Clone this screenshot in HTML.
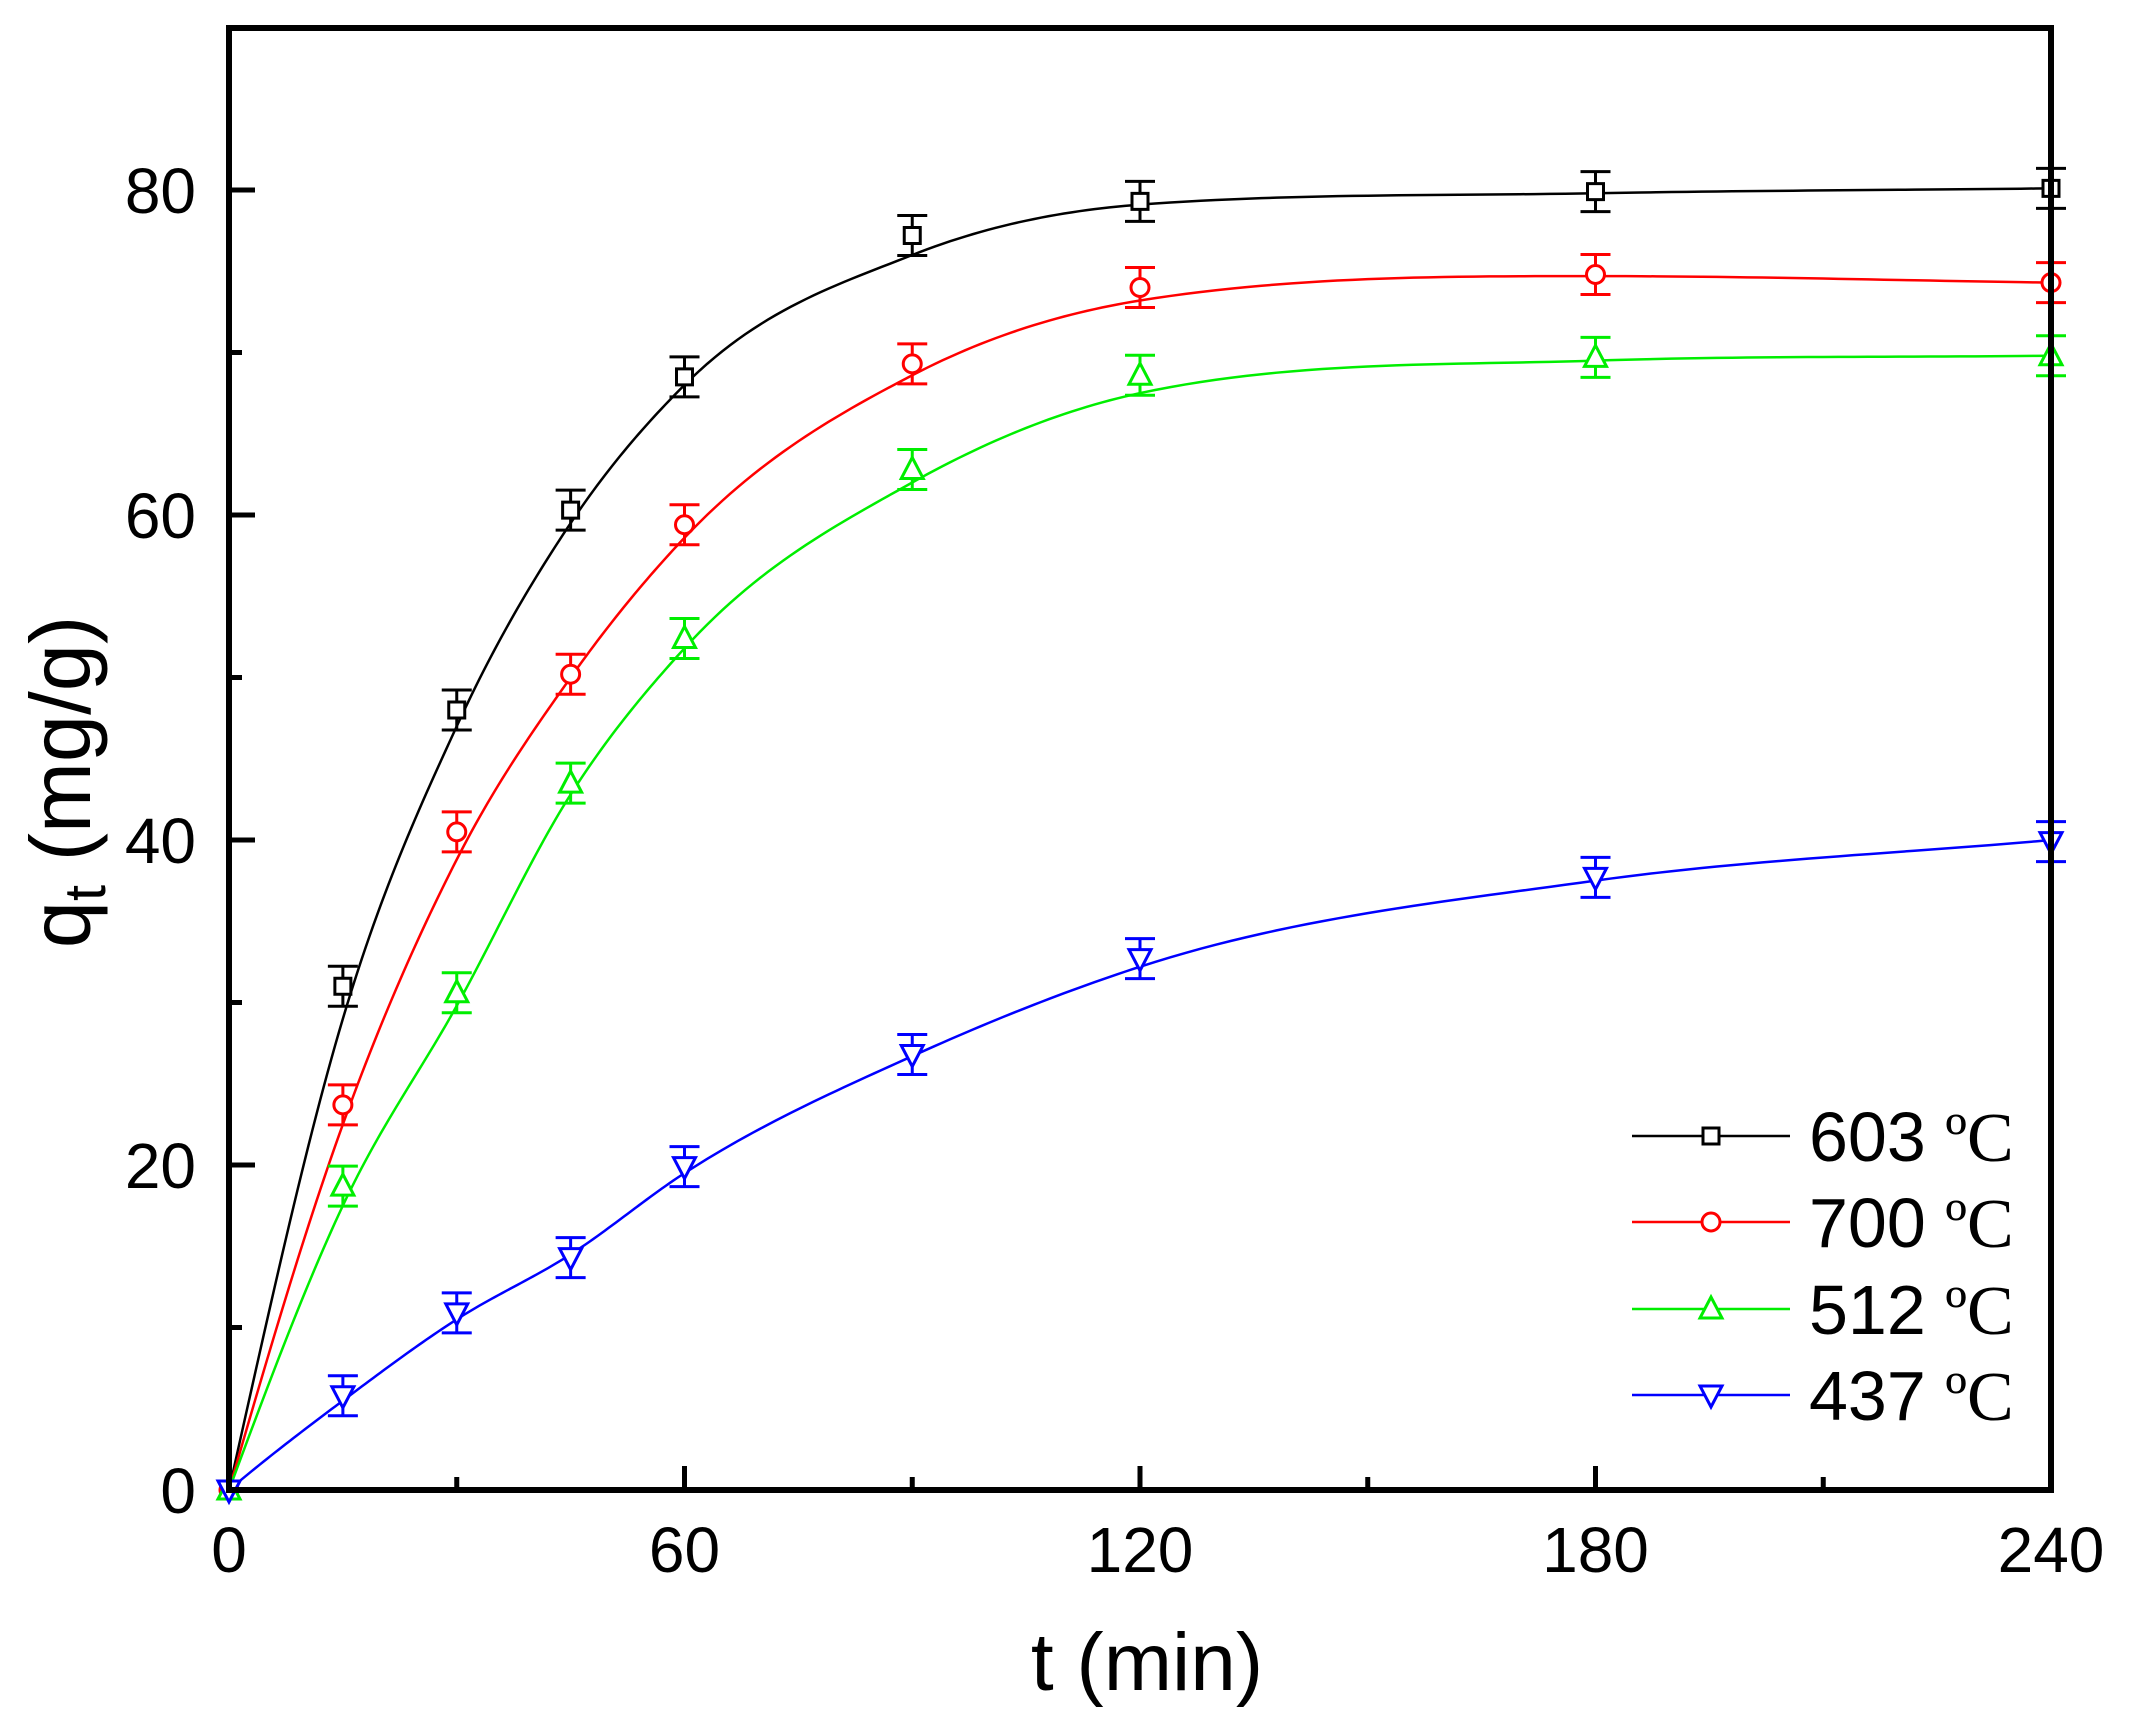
<!DOCTYPE html>
<html><head><meta charset="utf-8"><style>
html,body{margin:0;padding:0;background:#fff;}
svg{display:block;}
</style></head><body>
<svg id="s" width="2129" height="1726" viewBox="0 0 2129 1726" xmlns="http://www.w3.org/2000/svg" font-family="Liberation Sans, Arial, sans-serif">
<rect width="2129" height="1726" fill="#fff"/>
<g id="plot"></g>
<rect x="229" y="28" width="1822" height="1462" fill="none" stroke="#000" stroke-width="6"/>
<g id="ticks" stroke="#000" stroke-width="5"></g>
<g font-size="64" text-anchor="middle" fill="#000">
<text x="229" y="1572">0</text><text x="684.5" y="1572">60</text><text x="1140" y="1572">120</text><text x="1595.5" y="1572">180</text><text x="2051" y="1572">240</text>
</g>
<g font-size="64" text-anchor="end" fill="#000">
<text x="196" y="1513">0</text><text x="196" y="1188">20</text><text x="196" y="863">40</text><text x="196" y="538">60</text><text x="196" y="213">80</text>
</g>
<text x="1147" y="1690" font-size="82" text-anchor="middle">t (min)</text>
<text transform="translate(90,782) rotate(-90)" font-size="85" text-anchor="middle">q<tspan font-size="58" dy="15">t</tspan><tspan dy="-15"> (mg/g)</tspan></text>
<g id="legend"></g>
</svg>
<script>
var X=function(t){return 229+t*1822/240;},Y=function(q){return 1490-q*16.25;};
var T=[0,15,30,45,60,90,120,180,240];
var S=[
{c:"#000",m:"sq",d:[0,31,48,60.3,68.5,77.2,79.3,79.9,80.1],f:[0,29,47,59.5,68,76,79.1,79.8,80.1]},
{c:"#ff0000",m:"ci",d:[0,23.7,40.5,50.2,59.4,69.3,74,74.8,74.3],f:[0,22.5,38.8,50,58.6,68.6,73.2,74.7,74.3]},
{c:"#00ee00",m:"tu",d:[0,18.7,30.6,43.5,52.4,62.8,68.6,69.7,69.8],f:[0,17.5,29.8,42.8,51.8,62,67.5,69.5,69.8]},
{c:"#0000ff",m:"td",d:[0,5.8,10.9,14.3,19.9,26.8,32.7,37.7,39.9],f:[0,5.5,10.5,14.5,19.5,26.7,32.2,37.5,40]}];
var NS="http://www.w3.org/2000/svg";
function el(p,n,a){var e=document.createElementNS(NS,n);for(var k in a)e.setAttribute(k,a[k]);p.appendChild(e);return e;}
function marker(g,m,x,y,c){
 if(m=="sq")el(g,"rect",{x:x-8,y:y-8,width:16,height:16,fill:"#fff",stroke:c,"stroke-width":3});
 else if(m=="ci")el(g,"circle",{cx:x,cy:y,r:9,fill:"#fff",stroke:c,"stroke-width":3});
 else if(m=="tu")el(g,"polygon",{points:(x-11)+","+(y+9)+" "+(x+11)+","+(y+9)+" "+x+","+(y-12),fill:"#fff",stroke:c,"stroke-width":3});
 else el(g,"polygon",{points:(x-11)+","+(y-9)+" "+(x+11)+","+(y-9)+" "+x+","+(y+12),fill:"#fff",stroke:c,"stroke-width":3});
}
var plot=document.getElementById("plot");
S.forEach(function(s){
 var n=T.length,f=s.f,m=[];
 for(var i=0;i<n;i++){
  if(i==0)m[i]=(f[1]-f[0])/(T[1]-T[0])*1.08;
  else if(i==n-1)m[i]=(f[n-1]-f[n-2])/(T[n-1]-T[n-2]);
  else{var h0=T[i]-T[i-1],h1=T[i+1]-T[i],d0=(f[i]-f[i-1])/h0,d1=(f[i+1]-f[i])/h1;
   if(d0*d1<=0)m[i]=0;
   else{m[i]=(h1*d0+h0*d1)/(h0+h1);
    var lim=3*Math.min(Math.abs(d0),Math.abs(d1));
    if(Math.abs(m[i])>lim)m[i]=lim*Math.sign(m[i]);}
  }
 }
 var d="M"+X(0)+","+Y(f[0]);
 for(var i=0;i<n-1;i++){
  for(var j=1;j<=30;j++){
   var h=T[i+1]-T[i],u=j/30,t=T[i]+u*h;
   var h00=2*u*u*u-3*u*u+1,h10=u*u*u-2*u*u+u,h01=-2*u*u*u+3*u*u,h11=u*u*u-u*u;
   var q=h00*f[i]+h10*h*m[i]+h01*f[i+1]+h11*h*m[i+1];
   d+=" L"+X(t).toFixed(2)+","+Y(q).toFixed(2);
  }
 }
 el(plot,"path",{d:d,fill:"none",stroke:s.c,"stroke-width":2.5,"stroke-linejoin":"round"});
 T.forEach(function(t,i){
  var x=X(t),y=Y(s.d[i]);
  if(i>0){var e=20;
   el(plot,"path",{d:"M"+x+","+(y-e)+"V"+(y+e)+"M"+(x-15)+","+(y-e)+"H"+(x+15)+"M"+(x-15)+","+(y+e)+"H"+(x+15),stroke:s.c,"stroke-width":3,fill:"none"});}
  marker(plot,s.m,x,y,s.c);
 });
});
var tk=document.getElementById("ticks"),td="";
for(var t=0;t<=240;t+=30){var x=X(t),L=(t%60==0)?24:13;td+="M"+x+",1490V"+(1490-L);}
for(var q=0;q<=90;q+=10){var y=Y(q),L=(q%20==0)?26:13;td+="M229,"+y+"H"+(229+L);}
el(tk,"path",{d:td});
var lg=document.getElementById("legend"),labs=["603","700","512","437"],ys=[1136,1222,1309,1395];
S.forEach(function(s,i){
 el(lg,"line",{x1:1632,x2:1790,y1:ys[i],y2:ys[i],stroke:s.c,"stroke-width":2.5});
 marker(lg,s.m,1711,ys[i],s.c);
 var t=el(lg,"text",{x:1809,y:ys[i]+25,"font-size":70});
 t.textContent=labs[i]+" ";
 var sp=el(t,"tspan",{"font-family":"Liberation Serif, serif"});sp.textContent="ºC";
});
</script>
</body></html>
